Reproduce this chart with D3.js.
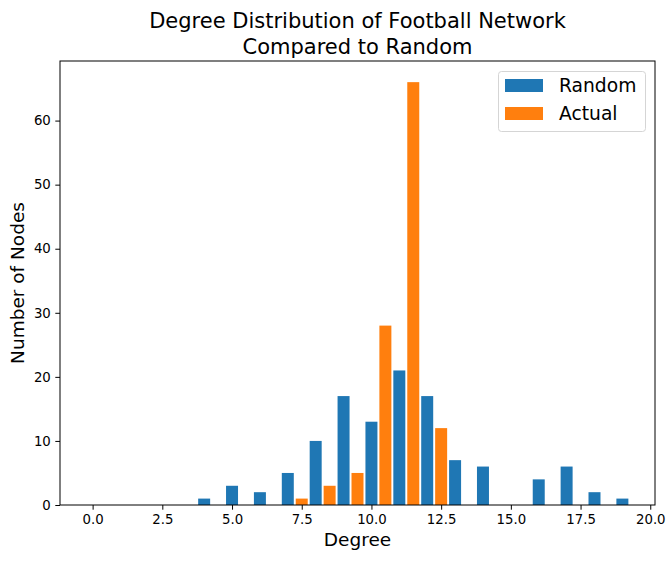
<!DOCTYPE html>
<html>
<head>
<meta charset="utf-8">
<script src="https://cdn.jsdelivr.net/npm/d3@7"></script>
<style>
  body { margin: 0; background: #fff; }
  text { font-family: "DejaVu Sans", sans-serif; fill: #000; }
</style>
</head>
<body>
<script>
// degree counts
var randomDegrees = [4, 5, 6, 7, 8, 9, 10, 11, 12, 13, 14, 16, 17, 18, 19];
var randomCounts  = [1, 3, 2, 5, 10, 17, 13, 21, 17, 7, 6, 4, 6, 2, 1];
var actualDegrees = [7.5, 8.5, 9.5, 10.5, 11.5, 12.5];
var actualCounts  = [1, 3, 5, 28, 66, 12];
var xTicks = [0, 2.5, 5, 7.5, 10, 12.5, 15, 17.5, 20];
var yTicks = [0, 10, 20, 30, 40, 50, 60];
var seriesNames = ["Random", "Actual"];
var colors = ["#1f77b4", "#ff7f0e"];

var width = 672, height = 561;
var margin = {top: 61, right: 17, bottom: 56, left: 60};
var barW = 0.43;

var svg = d3.select("body").append("svg")
  .attr("width", width)
  .attr("height", height);

var x = d3.scaleLinear().domain([-1.17, 20.17]).range([margin.left, width - margin.right]);
var y = d3.scaleLinear().domain([0, 69.3]).range([height - margin.bottom, margin.top]);

var randomData = randomDegrees.map(function(d, i) { return {x: d, v: randomCounts[i]}; });
var actualData = actualDegrees.map(function(d, i) { return {x: d, v: actualCounts[i]}; });

function drawBars(data, color) {
  svg.append("g").selectAll("rect")
    .data(data)
    .enter().append("rect")
    .attr("x", function(d) { return x(d.x - barW / 2); })
    .attr("width", function(d) { return x(d.x + barW / 2) - x(d.x - barW / 2); })
    .attr("y", function(d) { return y(d.v); })
    .attr("height", function(d) { return y(0) - y(d.v); })
    .attr("fill", color);
}
drawBars(randomData, colors[0]);
drawBars(actualData, colors[1]);

// axes
var xAxis = svg.append("g")
  .attr("transform", "translate(0," + (height - margin.bottom) + ")")
  .call(d3.axisBottom(x).tickValues(xTicks).tickFormat(d3.format(".1f")).tickSize(4.7).tickPadding(4.5));
var yAxis = svg.append("g")
  .attr("transform", "translate(" + margin.left + ",0)")
  .call(d3.axisLeft(y).tickValues(yTicks).tickFormat(d3.format("d")).tickSize(4.7).tickPadding(4.5));
[xAxis, yAxis].forEach(function(a) {
  a.select(".domain").remove();
  a.selectAll("text").style("font-size", "13.3px").style("font-family", "DejaVu Sans");
  a.selectAll("line").attr("stroke", "#000").attr("stroke-width", 1);
});

// frame
svg.append("rect")
  .attr("x", margin.left).attr("y", margin.top)
  .attr("width", width - margin.right - margin.left)
  .attr("height", height - margin.bottom - margin.top)
  .attr("fill", "none").attr("stroke", "#000").attr("stroke-width", 1);

// title
var cx = (margin.left + width - margin.right) / 2;
svg.append("text").attr("x", cx).attr("y", 28).attr("text-anchor", "middle")
  .style("font-size", "21px").text("Degree Distribution of Football Network");
svg.append("text").attr("x", cx).attr("y", 54).attr("text-anchor", "middle")
  .style("font-size", "21px").text("Compared to Random");

// axis labels
svg.append("text").attr("x", cx).attr("y", 546).attr("text-anchor", "middle")
  .style("font-size", "18.5px").text("Degree");
svg.append("text")
  .attr("transform", "translate(24," + ((margin.top + height - margin.bottom) / 2) + ") rotate(-90)")
  .attr("text-anchor", "middle")
  .style("font-size", "18.5px").text("Number of Nodes");

// legend
var lg = svg.append("g");
lg.append("rect").attr("x", 498.5).attr("y", 71.5).attr("width", 147).attr("height", 60)
  .attr("rx", 3).attr("fill", "#fff").attr("fill-opacity", 0.8)
  .attr("stroke", "#d5d5d5").attr("stroke-width", 1);
seriesNames.forEach(function(name, i) {
  lg.append("rect").attr("x", 505).attr("y", 79 + i * 28).attr("width", 38).attr("height", 13)
    .attr("fill", colors[i]);
  lg.append("text").attr("x", 559).attr("y", 92 + i * 28)
    .style("font-size", "18.7px").text(name);
});
</script>
</body>
</html>
